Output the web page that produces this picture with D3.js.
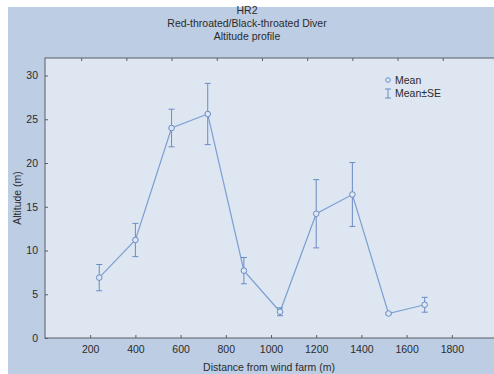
<!DOCTYPE html>
<html>
<head>
<meta charset="utf-8">
<script src="https://cdn.jsdelivr.net/npm/d3@7"></script>
<style>
  html, body { margin: 0; padding: 0; background: #ffffff; }
  svg { display: block; font-family: "Liberation Sans", Arial, sans-serif; }
</style>
</head>
<body>
<svg id="chart" width="494" height="374"></svg>
<script>
// Distance bins (m) and altitude statistics (m)
const distances = [240, 400, 560, 720, 880, 1040, 1200, 1360, 1520, 1680];
const meanAlt   = [6.9, 11.2, 24.0, 25.6, 7.7, 3.0, 14.2, 16.4, 2.8, 3.8];
const seAlt     = [1.5, 1.9, 2.15, 3.5, 1.5, 0.45, 3.9, 3.65, 0.1, 0.85];

const xTicks = [200, 400, 600, 800, 1000, 1200, 1400, 1600, 1800];
const yTicks = [0, 5, 10, 15, 20, 25, 30];
const titleLines = ["HR2", "Red-throated/Black-throated Diver", "Altitude profile"];
const legendItems = ["Mean", "Mean±SE"];

const svg = d3.select("#chart");
const W = 494, H = 374;
const m = { left: 45, top: 58, right: -3, bottom: 36 };

const lineColor = "#7d9fd3";
const barColor = "#6a8cc4";
const textColor = "#2b2b2b";

// Outer panel
svg.append("rect").attr("x", 8).attr("y", 7).attr("width", W - 8).attr("height", H - 7)
  .attr("fill", "#bccde4");

const x = d3.scaleLinear().domain([0, 2000]).range([m.left, W - m.right]);
const y = d3.scaleLinear().domain([0, 32]).range([H - m.bottom, m.top]);

// Plot area
svg.append("rect")
  .attr("x", x(0)).attr("y", y(32))
  .attr("width", x(2000) - x(0)).attr("height", y(0) - y(32))
  .attr("fill", "#dde6f1").attr("stroke", "#5a5f66").attr("stroke-width", 1);

// Title
const title = svg.append("text").attr("text-anchor", "middle").attr("fill", textColor)
  .attr("font-size", 10.5);
titleLines.forEach((t, i) => {
  title.append("tspan").attr("x", 247).attr("y", 14 + i * 13).text(t);
});

// Axes
const styleAxis = g => {
  g.select(".domain").remove();
  g.selectAll(".tick line").attr("stroke", "#5a5f66");
  g.selectAll(".tick text").attr("fill", textColor).attr("font-size", 10.5)
    .attr("font-family", "Liberation Sans, Arial, sans-serif");
};

svg.append("g").attr("transform", `translate(0,${y(0)})`)
  .call(d3.axisBottom(x).tickValues(xTicks).tickSize(-3).tickPadding(8).tickFormat(d3.format("d")))
  .call(styleAxis);
svg.append("g").attr("transform", `translate(0,${y(32)})`)
  .call(d3.axisTop(x).tickValues(xTicks.map(v => v - 40)).tickSize(-3).tickFormat(""))
  .call(styleAxis);
svg.append("g").attr("transform", `translate(${x(0)},0)`)
  .call(d3.axisLeft(y).tickValues(yTicks).tickSize(-3).tickPadding(7).tickFormat(d3.format("d")))
  .call(styleAxis);
svg.append("g").attr("transform", `translate(${x(2000)},0)`)
  .call(d3.axisRight(y).tickValues(yTicks).tickSize(-3).tickFormat(""))
  .call(styleAxis);

// Axis titles
svg.append("text").attr("x", (x(0) + x(2000)) / 2 - 2).attr("y", 371)
  .attr("text-anchor", "middle").attr("fill", textColor).attr("font-size", 10.5)
  .text("Distance from wind farm (m)");
svg.append("text").attr("transform", `translate(21,${y(16)}) rotate(-90)`)
  .attr("text-anchor", "middle").attr("fill", textColor).attr("font-size", 10.5)
  .text("Altitude (m)");

const data = distances.map((d, i) => ({ d, mean: meanAlt[i], se: seAlt[i] }));

// Mean line
svg.append("path").datum(data)
  .attr("fill", "none").attr("stroke", lineColor).attr("stroke-width", 1.2)
  .attr("d", d3.line().x(p => x(p.d)).y(p => y(p.mean)));

// Error bars (mean ± SE)
const eb = svg.append("g").attr("stroke", barColor).attr("stroke-width", 1).attr("fill", "none");
data.forEach(p => {
  const cx = x(p.d);
  eb.append("line").attr("x1", cx).attr("x2", cx).attr("y1", y(p.mean - p.se)).attr("y2", y(p.mean + p.se));
  eb.append("line").attr("x1", cx - 3).attr("x2", cx + 3).attr("y1", y(p.mean + p.se)).attr("y2", y(p.mean + p.se));
  eb.append("line").attr("x1", cx - 3).attr("x2", cx + 3).attr("y1", y(p.mean - p.se)).attr("y2", y(p.mean - p.se));
});

// Mean markers
svg.append("g").selectAll("circle").data(data).join("circle")
  .attr("cx", p => x(p.d)).attr("cy", p => y(p.mean)).attr("r", 2.8)
  .attr("fill", "#dde6f1").attr("stroke", barColor).attr("stroke-width", 1);

// Legend
const lg = svg.append("g").attr("transform", "translate(388,80)");
lg.append("circle").attr("cx", 0).attr("cy", 0).attr("r", 2.3)
  .attr("fill", "#dde6f1").attr("stroke", barColor);
lg.append("line").attr("x1", 0).attr("x2", 0).attr("y1", 9).attr("y2", 18).attr("stroke", barColor);
lg.append("line").attr("x1", -3).attr("x2", 3).attr("y1", 9).attr("y2", 9).attr("stroke", barColor);
lg.append("line").attr("x1", -3).attr("x2", 3).attr("y1", 18).attr("y2", 18).attr("stroke", barColor);
legendItems.forEach((t, i) => {
  lg.append("text").attr("x", 7).attr("y", i * 13 + 4).attr("fill", textColor)
    .attr("font-size", 10.5).text(t);
});
</script>
</body>
</html>
